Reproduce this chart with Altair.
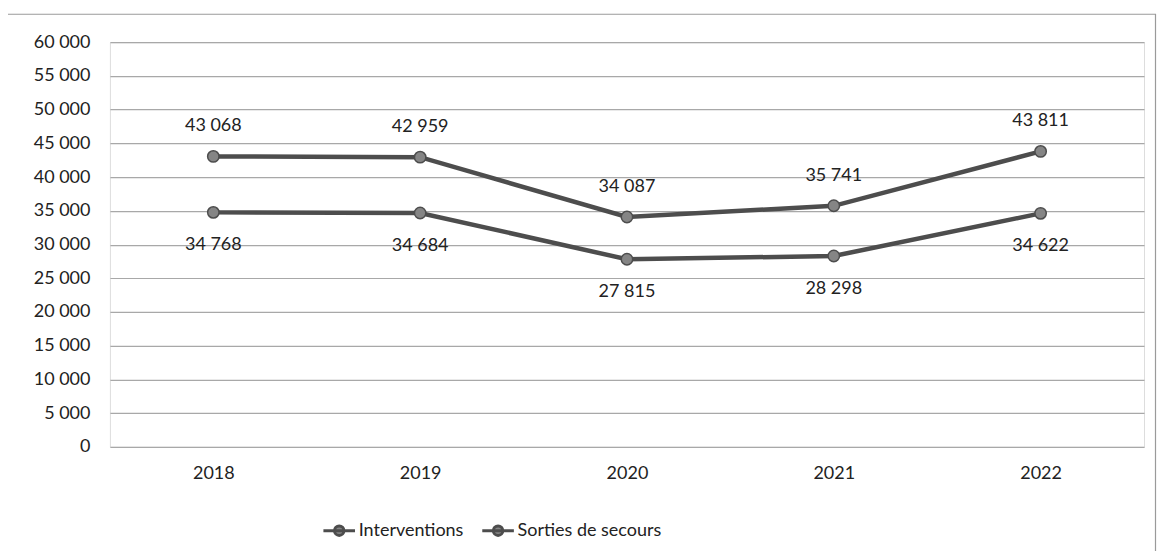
import altair as alt
import pandas as pd

years = ["2018", "2019", "2020", "2021", "2022"]
interventions = [34768, 34684, 27815, 28298, 34622]
sorties = [43068, 42959, 34087, 35741, 43811]
series_names = ["Interventions", "Sorties de secours"]

rows = []
for y, a, b in zip(years, interventions, sorties):
    rows.append({"annee": y, "serie": series_names[0], "valeur": a})
    rows.append({"annee": y, "serie": series_names[1], "valeur": b})
df = pd.DataFrame(rows)

FONT = "Lato"
LINE = "#4d4d4d"
FILLC = "#858585"

x = alt.X("annee:N", sort=years, scale=alt.Scale(paddingInner=1, paddingOuter=0.5),
          axis=alt.Axis(title=None, labelAngle=0, ticks=False, domain=False, grid=False,
                        labelPadding=18, labelFontSize=18, labelColor="#222", labelFont=FONT))
y = alt.Y("valeur:Q", scale=alt.Scale(domain=[0, 60000], nice=False),
          axis=alt.Axis(title=None, values=list(range(0, 60001, 5000)), ticks=False, domain=False,
                        labelPadding=20, labelFontSize=18, labelColor="#222", labelFont=FONT,
                        format=",.0f", gridColor="#a8a8a8", gridWidth=1.2))

color = alt.Color("serie:N", sort=series_names,
                  scale=alt.Scale(domain=series_names, range=[LINE, LINE]),
                  legend=alt.Legend(title=None, orient="none", legendX=212, legendY=471,
                                    direction="horizontal", labelFontSize=18, labelFont=FONT,
                                    labelColor="#222", symbolType="M-1,0L1,0M0.3,0A0.3,0.3 0 1 1 -0.3,0A0.3,0.3 0 1 1 0.3,0",
                                    symbolSize=1000, symbolStrokeWidth=3, symbolFillColor=FILLC,
                                    symbolStrokeColor=LINE, labelOffset=2, columnPadding=12,
                                    symbolOffset=0))

base = alt.Chart(df)

lines = base.mark_line(strokeWidth=4.5).encode(x=x, y=y, color=color, detail="serie:N")
points = base.mark_point(filled=True, size=130, fill=FILLC, stroke=LINE, strokeWidth=1.5, opacity=1).encode(
    x=x, y=y, detail="serie:N")

top_labels = base.transform_filter(alt.datum.serie == series_names[1]).mark_text(
    dy=-30, fontSize=18, font=FONT, color="#222").encode(x=x, y=y, text=alt.Text("valeur:Q", format=",.0f"))
bot_labels = base.transform_filter(alt.datum.serie == series_names[0]).mark_text(
    dy=33, fontSize=18, font=FONT, color="#222").encode(x=x, y=y, text=alt.Text("valeur:Q", format=",.0f"))

frame = alt.Chart(pd.DataFrame({"k": [0]})).mark_rect(fill=None, stroke="#9a9a9a", strokeWidth=1.2).encode(
    x=alt.value(-103.5), x2=alt.value(1046.5), y=alt.value(-28), y2=alt.value(540))

chart = alt.layer(frame, lines, points, top_labels, bot_labels).properties(
    width=1035, height=405,
    autosize=alt.AutoSizeParams(type="none"),
    padding={"left": 102, "top": 34, "right": 14, "bottom": 104},
).configure_view(stroke=None).configure(
    locale={"number": {"decimal": ",", "thousands": " ", "grouping": [3], "currency": ["", " €"]}}
)

chart.save("out.html", embed_options={"renderer": "svg", "actions": False})
